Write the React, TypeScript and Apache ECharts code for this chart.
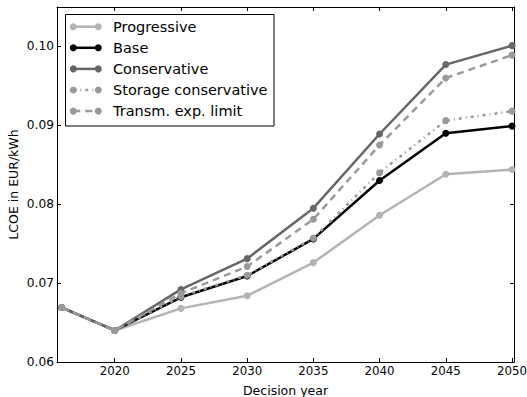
import React, { useEffect, useRef } from "react";
import * as echarts from "echarts";

const years = [2016, 2020, 2025, 2030, 2035, 2040, 2045, 2050];
const progressive = [0.0669, 0.064, 0.0668, 0.0684, 0.0726, 0.0786, 0.0838, 0.0844];
const base = [0.0669, 0.064, 0.0682, 0.0709, 0.0756, 0.083, 0.089, 0.0899];
const conservative = [0.0669, 0.064, 0.0692, 0.0731, 0.0795, 0.0889, 0.0977, 0.1001];
const storageConservative = [0.0669, 0.064, 0.0683, 0.071, 0.0757, 0.084, 0.0906, 0.0918];
const transmExpLimit = [0.0669, 0.064, 0.0687, 0.0721, 0.0781, 0.0875, 0.096, 0.0989];
const xTicks = [2020, 2025, 2030, 2035, 2040, 2045, 2050];
const seriesNames = ["Progressive", "Base", "Conservative", "Storage conservative", "Transm. exp. limit"];

const FONT = "DejaVu Sans";

export default function App() {
  const ref = useRef<HTMLDivElement>(null);
  useEffect(() => {
    if (!ref.current) return;
    const chart = echarts.init(ref.current, undefined, { renderer: "svg" });
    const styles = [
      { color: "#b3b3b3", dash: "solid" as any },
      { color: "#000000", dash: "solid" as any },
      { color: "#666666", dash: "solid" as any },
      { color: "#999999", dash: [3, 4, 1, 4] },
      { color: "#999999", dash: [7, 5] },
    ];
    const datasets = [progressive, base, conservative, storageConservative, transmExpLimit];
    const series = datasets.map((d, i) => ({
      name: seriesNames[i],
      type: "line",
      data: d.map((v, j) => [years[j], v]),
      symbol: "circle",
      symbolSize: 7,
      showSymbol: true,
      lineStyle: { color: styles[i].color, width: 2.5, type: styles[i].dash },
      itemStyle: { color: styles[i].color },
      z: 2 + i,
    }));
    const legendX = 65.5, legendY = 14.5, legendW = 208.5, legendH = 111.5;
    const legendEls: any[] = [
      {
        type: "rect",
        shape: { x: legendX, y: legendY, width: legendW, height: legendH },
        style: { fill: "#fff", stroke: "#000", lineWidth: 1 },
        z: 100,
      },
    ];
    seriesNames.forEach((n, i) => {
      const y = 26.7 + i * 21.1;
      legendEls.push({
        type: "line",
        shape: { x1: 73.3, y1: y, x2: 98.3, y2: y },
        style: { stroke: styles[i].color, lineWidth: 2.5, lineDash: Array.isArray(styles[i].dash) ? styles[i].dash : null },
        z: 101,
      });
      [73.3, 98.3].forEach((cx) =>
        legendEls.push({
          type: "circle",
          shape: { cx, cy: y, r: 3.5 },
          style: { fill: styles[i].color },
          z: 102,
        })
      );
      legendEls.push({
        type: "text",
        x: 113,
        y,
        style: { text: n, font: `14.5px '${FONT}'`, fill: "#000", verticalAlign: "middle", align: "left" },
        z: 103,
      });
    });
    const tickCommon = { lineStyle: { color: "#000", width: 1 }, inside: true, length: 4 };
    chart.setOption({
      animation: false,
      backgroundColor: "#fff",
      grid: { left: 57, right: 13, top: 7, bottom: 35, show: false, containLabel: false, outerBoundsMode: "none" },
      xAxis: [
        {
          type: "value",
          min: 2015.64,
          max: 2050.15,
          position: "bottom",
          name: "Decision year",
          nameLocation: "middle",
          nameGap: 22,
          nameTextStyle: { fontFamily: FONT, fontSize: 12.5, color: "#000" },
          axisLine: { lineStyle: { color: "#000", width: 1 } },
          axisTick: { ...tickCommon, customValues: xTicks },
          axisLabel: { customValues: xTicks, fontFamily: FONT, fontSize: 11.8, color: "#000", margin: 3, formatter: (v: number) => String(Math.round(v)) },
          splitLine: { show: false },
        },
        {
          type: "value",
          min: 2015.64,
          max: 2050.15,
          position: "top",
          axisLine: { lineStyle: { color: "#000", width: 1 } },
          axisTick: { ...tickCommon, customValues: xTicks },
          axisLabel: { show: false },
          splitLine: { show: false },
        },
      ],
      yAxis: [
        {
          type: "value",
          min: 0.06,
          max: 0.105,
          interval: 0.01,
          position: "left",
          name: "LCOE in EUR/kWh",
          nameLocation: "middle",
          nameGap: 37,
          nameMoveOverlap: false,
          nameTextStyle: { fontFamily: FONT, fontSize: 12.5, color: "#000" },
          axisLine: { show: true, lineStyle: { color: "#000", width: 1 } },
          axisTick: { show: true, ...tickCommon },
          axisLabel: { fontFamily: FONT, fontSize: 12.2, color: "#000", margin: 3, formatter: (v: number) => v.toFixed(2), showMaxLabel: false },
          splitLine: { show: false },
        },
        {
          type: "value",
          min: 0.06,
          max: 0.105,
          interval: 0.01,
          position: "right",
          axisLine: { show: true, lineStyle: { color: "#000", width: 1 } },
          axisTick: { show: true, ...tickCommon },
          axisLabel: { show: false },
          splitLine: { show: false },
        },
      ],
      series,
      graphic: legendEls,
    });
    return () => chart.dispose();
  }, []);
  return <div ref={ref} style={{ width: 527, height: 397, position: "absolute", left: 0, top: 0 }} />;
}
